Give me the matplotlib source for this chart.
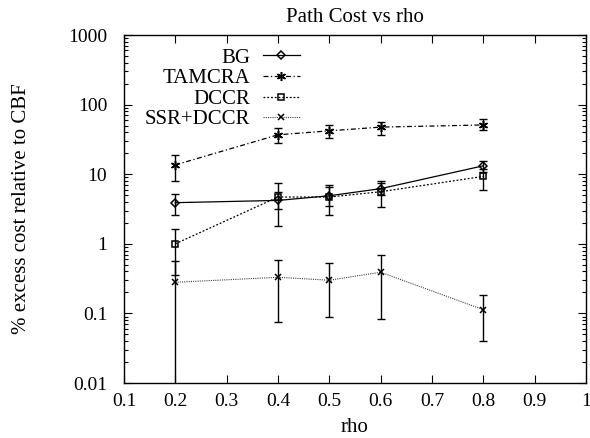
import numpy as np
import matplotlib
matplotlib.use("Agg")
import matplotlib.pyplot as plt
from matplotlib.ticker import FixedLocator, NullFormatter

plt.rcParams['font.family'] = ['Liberation Serif', 'DejaVu Serif']
plt.rcParams['font.size'] = 14

rho = [0.2, 0.4, 0.5, 0.6, 0.8]

bg = [3.9, 4.2, 4.9, 6.2, 13.2]
bg_lo = [2.6, 3.2, 3.5, 5.0, 10.8]
bg_hi = [5.2, 5.5, 6.5, 7.5, 15.6]

tamcra = [13.6, 36.8, 42.0, 47.5, 51.0]
tamcra_lo = [7.9, 28.0, 33.0, 37.0, 42.5]
tamcra_hi = [19.0, 46.0, 51.0, 57.0, 63.0]

dccr = [1.0, 4.7, 4.7, 5.6, 9.3]
dccr_lo = [0.36, 1.8, 2.6, 3.4, 6.0]
dccr_hi = [1.64, 7.45, 6.9, 7.9, 12.0]

ssr = [0.28, 0.33, 0.30, 0.39, 0.113]
ssr_lo = [0.0001, 0.076, 0.088, 0.083, 0.04]
ssr_hi = [0.56, 0.58, 0.53, 0.70, 0.185]

W, H = 590, 438
fig = plt.figure(figsize=(W / 100, H / 100), dpi=100)
ax = fig.add_axes([124 / W, 1 - 383 / H, (586 - 124) / W, (383 - 35) / H])

def draw(y, lo, hi, label, marker, ls, ms, color='black', lw=0.9):
    y = np.array(y)
    err = [y - np.array(lo), np.array(hi) - y]
    ax.errorbar(rho, y, yerr=err, fmt='none', ecolor='black', elinewidth=1.0,
                capsize=3, capthick=1.0)
    ax.plot(rho, y, linestyle=ls, color=color, lw=lw, marker=marker, ms=ms,
            mfc='none', mec='black', mew=1.1, label=label)

draw(bg, bg_lo, bg_hi, 'BG', 'D', '-', 4)
draw(tamcra, tamcra_lo, tamcra_hi, 'TAMCRA', (6, 2, 0), (0, (4, 2, 1, 2)), 6.5)
draw(dccr, dccr_lo, dccr_hi, 'DCCR', 's', (0, (1.5, 1.5)), 4.5)
draw(ssr, ssr_lo, ssr_hi, 'SSR+DCCR', 'x', (0, (1, 1)), 4.5, color='#444444', lw=0.8)

ax.set_yscale('log')
ax.set_ylim(0.01, 1000)
ax.set_xlim(0.1, 1.0)
ax.set_xticks([0.1, 0.2, 0.3, 0.4, 0.5, 0.6, 0.7, 0.8, 0.9, 1.0])
ax.set_xticklabels(['0.1', '0.2', '0.3', '0.4', '0.5', '0.6', '0.7', '0.8', '0.9', '1'])
ax.set_yticks([0.01, 0.1, 1, 10, 100, 1000])
ax.set_yticklabels(['0.01', '0.1', '1', '10', '100', '1000'])
ax.yaxis.set_minor_locator(FixedLocator(
    [m * 10.0 ** e for e in range(-2, 3) for m in (2, 3, 4, 5, 6, 7, 8, 9)]))
ax.yaxis.set_minor_formatter(NullFormatter())
ax.tick_params(which='both', direction='in', top=True, right=True, width=0.8)
ax.tick_params(which='major', length=6, pad=7)
ax.tick_params(which='minor', length=3)
ax.tick_params(axis='y', which='major', pad=12)
for s in ax.spines.values():
    s.set_linewidth(1.0)

ax.set_title('Path Cost vs rho', fontsize=15, pad=9)
ax.set_xlabel('rho', fontsize=15, labelpad=6)
ax.set_ylabel('% excess cost relative to CBF', fontsize=15)
ax.yaxis.set_label_coords((31 - 124) / 462, 0.5)

leg = ax.legend(loc='upper right', bbox_to_anchor=((300 - 124) / 462, (383 - 48) / 348),
                frameon=False, markerfirst=False, handlelength=1.8,
                handletextpad=0.6, labelspacing=0.05, fontsize=15,
                borderpad=0, borderaxespad=0)
for t in leg.get_texts():
    t.set_ha('right')
leg._legend_box.align = 'right'

fig.savefig('out.png', dpi=100)
